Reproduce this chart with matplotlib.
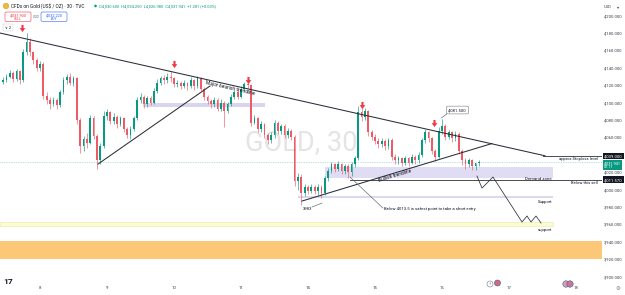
import numpy as np
import matplotlib
matplotlib.use("Agg")
import matplotlib.pyplot as plt
from matplotlib.patches import Rectangle, FancyBboxPatch, Circle
from matplotlib.path import Path

plt.rcParams['font.family'] = ['Roboto', 'DejaVu Sans']

# ---------------- data ----------------
day_labels = ['8', '9', '10', '11', '14', '15', '16', '17', '18']
first_bar_day = -0.55          # day offset of first bar (label "8" = 0)
bars_per_day = 20
first_open = 4124.0
closes = [4126, 4130, 4134, 4127, 4136, 4126, 4158, 4170, 4158, 4149,
          4140, 4145, 4108, 4103, 4098, 4103, 4097, 4112, 4126, 4130,
          4123, 4128, 4080, 4050, 4058, 4054, 4082, 4062, 4034, 4050,
          4085, 4089, 4079, 4084, 4075, 4082, 4070, 4063, 4070, 4082,
          4103, 4107, 4098, 4105, 4100, 4114, 4123, 4128, 4126, 4130,
          4128, 4121, 4123, 4119, 4123, 4119, 4126, 4119, 4128, 4116,
          4107, 4102, 4098, 4103, 4093, 4100, 4091, 4098, 4107, 4112,
          4107, 4116, 4121, 4120, 4077, 4082, 4070, 4075, 4063, 4057,
          4063, 4077, 4068, 4073, 4063, 4068, 4061, 4010, 4015, 3996,
          4003, 3999, 4003, 3999, 4003, 3996, 4013, 4022, 4029, 4024,
          4029, 4022, 4027, 4020, 4029, 4036, 4089, 4084, 4091, 4066,
          4061, 4056, 4052, 4056, 4050, 4057, 4038, 4034, 4036, 4031,
          4036, 4031, 4038, 4034, 4040, 4057, 4066, 4059, 4045, 4038,
          4068, 4073, 4061, 4066, 4059, 4064, 4045, 4034, 4029, 4034,
          4027, 4030.6, 4031.941]
highs = [4130, 4133, 4138, 4136, 4139, 4138, 4162, 4180, 4174, 4160,
         4151, 4148, 4147, 4112, 4106, 4107, 4105, 4115, 4130, 4133,
         4134, 4131, 4130, 4082, 4062, 4065, 4086, 4085, 4064, 4054,
         4090, 4093, 4091, 4088, 4086, 4085, 4084, 4072, 4073, 4085,
         4107, 4111, 4109, 4108, 4108, 4117, 4127, 4131, 4132, 4134,
         4136, 4130, 4126, 4125, 4126, 4124, 4129, 4127, 4131, 4130,
         4118, 4109, 4104, 4106, 4105, 4104, 4102, 4101, 4110, 4115,
         4116, 4119, 4124, 4126, 4121, 4086, 4084, 4079, 4077, 4065,
         4066, 4080, 4079, 4076, 4075, 4071, 4070, 4063, 4019, 4018,
         4007, 4006, 4007, 4005, 4007, 4005, 4016, 4025, 4032, 4031,
         4033, 4031, 4030, 4029, 4032, 4039, 4096, 4094, 4094, 4092,
         4069, 4064, 4059, 4059, 4058, 4060, 4059, 4041, 4039, 4038,
         4039, 4038, 4041, 4040, 4043, 4060, 4070, 4068, 4061, 4047,
         4072, 4081.5, 4075, 4069, 4068, 4067, 4066, 4047, 4036, 4037,
         4035, 4031, 4034.25]
lows = [4121, 4124, 4128, 4124, 4125, 4122, 4124, 4155, 4154, 4145,
        4137, 4136, 4104, 4098, 4093, 4096, 4093, 4095, 4110, 4122,
        4120, 4119, 4076, 4042, 4044, 4048, 4052, 4058, 4024, 4030,
        4048, 4080, 4075, 4076, 4071, 4073, 4066, 4059, 4058, 4068,
        4080, 4100, 4094, 4095, 4097, 4098, 4111, 4120, 4122, 4123,
        4124, 4118, 4118, 4116, 4117, 4115, 4117, 4115, 4117, 4113,
        4103, 4098, 4094, 4095, 4090, 4090, 4072, 4088, 4096, 4104,
        4104, 4105, 4113, 4117, 4073, 4075, 4066, 4066, 4060, 4053,
        4054, 4060, 4064, 4064, 4060, 4059, 4057, 4004, 4000, 3983,
        3993, 3995, 3996, 3995, 3994, 3990, 3994, 4010, 4019, 4020,
        4021, 4018, 4018, 4014, 4016, 4026, 4034, 4079, 4080, 4062,
        4057, 4052, 4048, 4049, 4046, 4047, 4034, 4030, 4029, 4027,
        4028, 4027, 4029, 4030, 4031, 4038, 4054, 4055, 4041, 4033,
        4036, 4064, 4057, 4058, 4055, 4056, 4041, 4028, 4024, 4026,
        4023, 4023, 4026.98]
price_ticks = [4200, 4180, 4160, 4140, 4120, 4100, 4080, 4060,
               4020, 4000, 3980, 3960, 3940, 3920, 3900]

last_price = 4031.941
sell_quote = "4,031.900"
buy_quote = "4,032.220"
stoploss_level = 4039.0
sell_level = 4011.570
swing_high = 4081.5
swing_low_text = "3983"

bearish_tl_x, bearish_tl_y = [-0.597, 7.537], [4180.1, 4039.0]
left_tl_x, left_tl_y = [0.866, 2.537], [4029.5, 4119.2]
bullish_tl_x, bullish_tl_y = [3.910, 6.746], [3987.0, 4053.1]
resist_zone = [1.537, 3.358, 4095.0, 4099.6]
demand_zone = [4.254, 7.657, 4013.5, 4026.0]
support_band = [3.851, 7.657, 3990.5, 3992.8]
support2_band = [-0.597, 7.657, 3958.3, 3962.9]
orange_zone = [-0.597, 8.4, 3920.3, 3941.0]
proj_x = [6.522, 6.597, 6.761, 7.194, 7.269, 7.328, 7.403, 7.478]
proj_y = [4015.7, 4001.9, 4014.6, 3962.9, 3969.8, 3962.9, 3969.8, 3961.7]
arrow_x = [-0.273, 2.0, 3.104, 4.806, 5.881]
arrow_y = [4185.9, 4144.5, 4126.1, 4097.4, 4076.6]

# ---------------- figure ----------------
X_MIN, X_MAX = -0.597, 8.388
Y_MIN, Y_MAX = 3892.8, 4218.05
UP, DOWN = '#089981', '#f23645'
TXT = '#131722'

fig = plt.figure(figsize=(6.25, 2.95), dpi=100)
fig.patch.set_facecolor('white')
ax = fig.add_axes([0, 12 / 295, 602 / 625, 283 / 295])
ax.set_xlim(X_MIN, X_MAX)
ax.set_ylim(Y_MIN, Y_MAX)
ax.axis('off')

# watermark
ax.text(3.896, 4053.7, "GOLD, 30", fontsize=19.5, color='#e4e4e4',
        ha='center', va='center', zorder=0)

# zones
def rect(z, fc, ec='none', lw=0, alpha=1.0, zo=1):
    ax.add_patch(Rectangle((z[0], z[2]), z[1] - z[0], z[3] - z[2],
                           facecolor=fc, edgecolor=ec, lw=lw, alpha=alpha, zorder=zo))

rect(orange_zone, '#fcc877')
rect(support2_band, '#fbfbd6', ec='#eef0a8', lw=0.5)
rect(support_band, '#dcd8f0')
rect(demand_zone, '#e0dcf3')
rect(resist_zone, '#d9d4ef')

# candles
c = np.array(closes, float)
o = np.array([first_open] + closes[:-1], float)
h = np.array(highs, float)
l = np.array(lows, float)
xs = first_bar_day + np.arange(len(c)) / bars_per_day
cols = np.where(c >= o, UP, '#ef5a67')
ax.vlines(xs, l, h, colors=cols, lw=0.45, zorder=3)
ax.bar(xs, np.maximum(np.abs(c - o), 0.7), bottom=np.minimum(o, c),
       width=0.026, color=cols, linewidth=0, zorder=4)

# current price line
ax.axhline(last_price, color=UP, lw=0.5, ls=(0, (1, 1.5)), alpha=0.55, zorder=2)

# trend lines
ax.plot(bearish_tl_x, bearish_tl_y, color='#2a2e39', lw=0.75, zorder=5)
ax.plot(left_tl_x, left_tl_y, color='#2a2e39', lw=0.75, zorder=5)
ax.plot(bullish_tl_x, bullish_tl_y, color='#2a2e39', lw=0.75, zorder=5)
ax.text(2.836, 4117.0, "Major bearish trendline", fontsize=3.5, color=TXT,
        rotation=-12.7, rotation_mode='anchor', ha='center', va='center', zorder=6)
ax.text(5.299, 4015.7, "Bullish trendline", fontsize=3.4, color=TXT,
        rotation=16.8, rotation_mode='anchor', ha='center', va='center', zorder=6)

# horizontal levels
ax.plot([4.627, X_MAX], [sell_level, sell_level], color='#2a2e39', lw=0.6, zorder=5)
ax.plot([7.507, X_MAX], [stoploss_level, stoploss_level], color='#2a2e39', lw=0.6, zorder=5)
ax.text(8.328, 4034.9, "approx Stoploss level", fontsize=3.0, color=TXT,
        ha='right', va='center', zorder=6)
ax.text(8.328, 4007.6, "Below this sell", fontsize=3.0, color=TXT,
        ha='right', va='center', zorder=6)
ax.text(7.642, 4012.0, "Demand zone", fontsize=3.2, color=TXT,
        ha='right', va='center', zorder=6)
ax.text(7.642, 3986.4, "Support", fontsize=3.1, color=TXT,
        ha='right', va='center', zorder=6)
ax.text(7.642, 3953.7, "support", fontsize=3.1, color=TXT,
        ha='right', va='center', zorder=6)

# projection path
ax.plot(proj_x, proj_y, color='#2a2e39', lw=0.55, zorder=5)

# short-entry note
ax.plot([4.627, 5.119], [4014.6, 3978.9], color='#5d606b', lw=0.45, zorder=5)
ax.text(5.134, 3977.8, "Below 4013.5 is safest point to take a short entry",
        fontsize=3.1, color=TXT, ha='left', va='center', zorder=6)

# swing low label
ax.text(3.993, 3977.8, swing_low_text, fontsize=3.0, color=TXT,
        ha='center', va='center', zorder=6)
ax.plot([4.060, 4.209], [3980.1, 3984.7], color='#5d606b', lw=0.45, zorder=5)

# swing high label
ax.plot([6.09, 5.99], [4088.2, 4082.4], color='#5d606b', lw=0.45, zorder=5)
ax.text(6.231, 4091.6, "{:,.3f}".format(swing_high), fontsize=3.0, color=TXT,
        ha='center', va='center', zorder=7,
        bbox=dict(boxstyle='round,pad=0.45,rounding_size=0.4', fc='white',
                  ec='#787b86', lw=0.4))

# red arrows
arrow_path = Path([(-0.3, 1), (0.3, 1), (0.3, 0.1), (0.8, 0.1), (0, -1),
                   (-0.8, 0.1), (-0.3, 0.1), (-0.3, 1)], closed=True)
ax.scatter(arrow_x, arrow_y, marker=arrow_path, s=26, color=DOWN,
           linewidths=0, zorder=8)

# ---------------- price axis ----------------
ytr = ax.get_yaxis_transform()
px_ax = 1 + 2 / 602
for p in price_ticks:
    ax.text(px_ax, p, "{:,.3f}".format(p), transform=ytr, fontsize=3.0,
            color='#3a3e4a', ha='left', va='center', clip_on=False)
ax.text(px_ax, stoploss_level, "{:,.3f}".format(stoploss_level), transform=ytr,
        fontsize=3.0, color='white', ha='left', va='center', clip_on=False,
        bbox=dict(boxstyle='square,pad=0.3', fc=TXT, ec='none'))
ax.text(px_ax, last_price - 3.2, "{:,.3f}\n07:11".format(last_price), transform=ytr,
        fontsize=2.8, color='white', ha='left', va='center', clip_on=False,
        linespacing=1.0, bbox=dict(boxstyle='square,pad=0.3', fc=UP, ec='none'))
ax.text(px_ax, sell_level, "{:,.3f}".format(sell_level), transform=ytr,
        fontsize=3.0, color='white', ha='left', va='center', clip_on=False,
        bbox=dict(boxstyle='square,pad=0.3', fc=TXT, ec='none'))

# ---------------- time axis ----------------
xtr = ax.get_xaxis_transform()
for k, lab in enumerate(day_labels):
    ax.text(k, -5 / 283, lab, transform=xtr, fontsize=3.2, color='#3a3e4a',
            ha='center', va='center', clip_on=False)

# ---------------- UI chrome (pixel overlay) ----------------
ov = fig.add_axes([0, 0, 1, 1], zorder=5)
ov.set_xlim(0, 625)
ov.set_ylim(295, 0)
ov.axis('off')
ov.patch.set_alpha(0)

ov.add_patch(Circle((6, 6), 2.8, fc='#f5b82e', ec='#d49a10', lw=0.3))
ov.text(11, 6.2, "CFDs on Gold (US$ / OZ) · 30 · TVC", fontsize=3.4, color=TXT,
        ha='left', va='center')
ov.add_patch(Circle((95.5, 6), 1.3, fc=UP, ec='none'))
ov.text(99, 6.2, "O4,030.600  H4,034.250  L4,026.980  C4,031.941  +1.281 (+0.03%)",
        fontsize=2.9, color=UP, ha='left', va='center')

ov.add_patch(FancyBboxPatch((5, 12), 26, 9.5, boxstyle='round,pad=0,rounding_size=1.5',
                            fc='white', ec=DOWN, lw=0.4))
ov.text(18, 15, sell_quote, fontsize=2.8, color=DOWN, ha='center', va='center')
ov.text(18, 19, "SELL", fontsize=2.5, color=DOWN, ha='center', va='center')
ov.text(36, 16.8, "0.32", fontsize=2.5, color='#5d606b', ha='center', va='center')
ov.add_patch(FancyBboxPatch((41, 12), 26, 9.5, boxstyle='round,pad=0,rounding_size=1.5',
                            fc='white', ec='#2962ff', lw=0.4))
ov.text(54, 15, buy_quote, fontsize=2.8, color='#2962ff', ha='center', va='center')
ov.text(54, 19, "BUY", fontsize=2.5, color='#2962ff', ha='center', va='center')
ov.add_patch(FancyBboxPatch((3, 24), 10, 7, boxstyle='round,pad=0,rounding_size=1.2',
                            fc='white', ec='#d1d4dc', lw=0.4))
ov.text(8, 27.6, "∨ 2", fontsize=2.8, color=TXT, ha='center', va='center')

ov.text(604, 7, "USD", fontsize=3.0, color='#3a3e4a', ha='left', va='center')
ov.text(617, 7, "▾", fontsize=3.0, color='#3a3e4a', ha='left', va='center')

ov.text(8.5, 281, "17", fontsize=6, fontweight='bold', color=TXT,
        ha='center', va='center')
ov.add_patch(Circle((490, 284), 3, fc='white', ec='#787b86', lw=0.4))
ov.text(490, 284.2, "⚡", fontsize=2.6, color='#787b86', ha='center', va='center')
ov.add_patch(Circle((497.5, 283), 3, fc='#d46a74', ec='#3c5aa6', lw=0.4))
ov.add_patch(Circle((566, 284), 3.2, fc='#d9a0ac', ec='#3c5aa6', lw=0.4))
ov.add_patch(Circle((570, 284), 3.2, fc='#c97a8a', ec='#3c5aa6', lw=0.4))
ov.text(618, 288, "⚙", fontsize=4, color='#787b86', ha='center', va='center')

fig.savefig("out.png", dpi=100)
